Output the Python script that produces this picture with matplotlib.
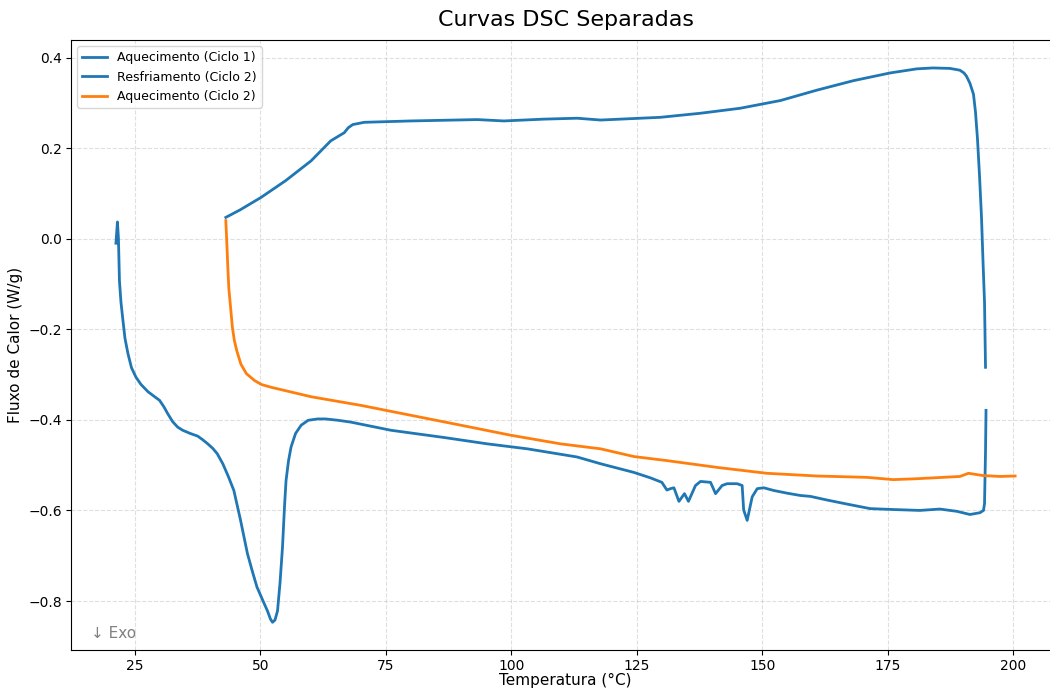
import numpy as np
import matplotlib
matplotlib.use("Agg")
import matplotlib.pyplot as plt

# Aquecimento (Ciclo 1)
aq1_temp = [21.2, 21.5, 21.7, 21.9, 22.2, 22.6, 23.0, 23.6, 24.3, 25.2, 26.2, 27.6, 28.8,
            29.9, 30.8, 31.5, 32.5, 33.5, 34.5, 36.0, 37.5, 38.5, 39.5, 40.5, 41.4, 42.5,
            43.6, 44.7, 46.0, 47.4, 48.4, 49.3, 50.4, 51.4, 52.0, 52.4, 52.9, 53.4, 53.9,
            54.4, 54.8, 55.1, 55.6, 56.1, 57.0, 58.1, 59.5, 61.4, 63.0, 65.5, 68.0, 76.0,
            86.6, 95.2, 103.2, 113.1, 117.8, 124.4, 127.7, 130.0, 131.0, 131.7, 132.4,
            133.4, 134.5, 135.3, 136.7, 137.7, 139.7, 140.7, 142.0, 143.0, 145.0, 146.0,
            146.3, 147.0, 148.0, 149.0, 150.3, 152.3, 155.0, 157.6, 159.6, 162.9, 166.9,
            171.5, 176.1, 181.4, 185.4, 188.8, 191.4, 193.4, 194.1, 194.3, 194.5, 194.6]
aq1_flux = [-0.010, 0.037, 0.000, -0.093, -0.140, -0.181, -0.220, -0.254, -0.285, -0.306,
            -0.322, -0.338, -0.348, -0.357, -0.372, -0.386, -0.404, -0.416, -0.423, -0.430,
            -0.436, -0.444, -0.453, -0.463, -0.475, -0.497, -0.525, -0.556, -0.620, -0.695,
            -0.735, -0.769, -0.797, -0.822, -0.840, -0.847, -0.842, -0.822, -0.760, -0.680,
            -0.590, -0.534, -0.490, -0.460, -0.430, -0.412, -0.401, -0.398, -0.398, -0.401,
            -0.405, -0.423, -0.439, -0.453, -0.464, -0.482, -0.497, -0.516, -0.528, -0.538,
            -0.555, -0.552, -0.550, -0.580, -0.563, -0.580, -0.545, -0.536, -0.538, -0.563,
            -0.545, -0.541, -0.541, -0.545, -0.599, -0.622, -0.570, -0.552, -0.550, -0.556,
            -0.562, -0.567, -0.569, -0.577, -0.586, -0.596, -0.598, -0.600, -0.597, -0.602,
            -0.609, -0.605, -0.600, -0.585, -0.470, -0.379]

# Resfriamento (Ciclo 2)
resf_temp = [194.5, 194.3, 194.0, 193.7, 193.3, 192.9, 192.5, 192.1, 191.4, 190.7, 190.2,
             189.4, 187.4, 184.0, 180.8, 175.5, 168.2, 160.9, 153.6, 145.6, 137.7, 129.7,
             117.8, 113.1, 106.5, 98.5, 93.2, 80.0, 70.7, 68.4, 67.5, 66.7, 64.0, 60.1,
             55.0, 50.1, 46.0, 43.1]
resf_flux = [-0.284, -0.140, -0.050, 0.047, 0.140, 0.220, 0.280, 0.319, 0.343, 0.359, 0.366,
             0.372, 0.376, 0.377, 0.375, 0.366, 0.349, 0.328, 0.305, 0.288, 0.277, 0.268,
             0.262, 0.266, 0.264, 0.260, 0.263, 0.260, 0.257, 0.252, 0.245, 0.234, 0.216,
             0.172, 0.128, 0.091, 0.064, 0.047]

# Aquecimento (Ciclo 2)
aq2_temp = [43.1, 43.3, 43.5, 43.7, 44.1, 44.4, 44.8, 45.3, 46.1, 47.2, 48.8, 50.2, 52.1,
            60.1, 70.0, 80.0, 90.0, 99.9, 109.8, 117.8, 124.4, 131.0, 141.0, 150.9, 160.9,
            170.9, 176.1, 180.8, 189.4, 191.1, 194.0, 197.4, 200.4]
aq2_flux = [0.040, -0.010, -0.064, -0.110, -0.158, -0.195, -0.225, -0.248, -0.277, -0.298,
            -0.313, -0.322, -0.328, -0.349, -0.368, -0.390, -0.412, -0.434, -0.453, -0.464,
            -0.481, -0.490, -0.505, -0.518, -0.524, -0.527, -0.532, -0.530, -0.525, -0.518,
            -0.523, -0.525, -0.524]

fig = plt.figure(figsize=(10.5, 6.89), dpi=100)
ax = fig.add_axes([0.0676, 0.0566, 0.942, 0.885])

ax.plot(aq1_temp, aq1_flux, color="#1f77b4", lw=2, label="Aquecimento (Ciclo 1)")
ax.plot(resf_temp, resf_flux, color="#1f77b4", lw=2, label="Resfriamento (Ciclo 2)")
ax.plot(aq2_temp, aq2_flux, color="#ff7f0e", lw=2, label="Aquecimento (Ciclo 2)")

ax.set_title("Curvas DSC Separadas", fontsize=16, pad=10)
ax.set_xlabel("Temperatura (°C)", fontsize=11, labelpad=0)
ax.set_ylabel("Fluxo de Calor (W/g)", fontsize=11)
ax.tick_params(labelsize=10, pad=3)
ax.grid(True, linestyle="--", alpha=0.4)
ax.legend(loc="upper left", fontsize=9)
ax.text(0.02, 0.02, "↓ Exo", transform=ax.transAxes, fontsize=11, color="gray")

fig.savefig("out.png", dpi=100)
